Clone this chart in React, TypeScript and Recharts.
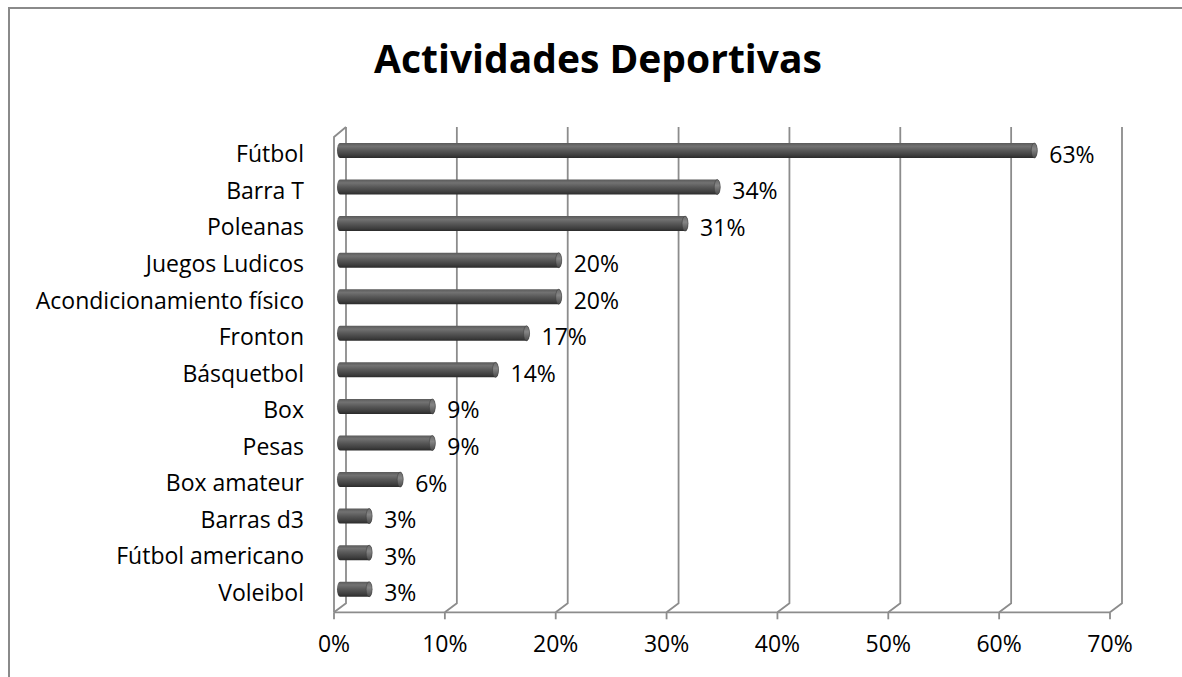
import React from "react";
import { Bar, BarChart, CartesianGrid, LabelList, XAxis, YAxis } from "recharts";

const categories = [
	"Fútbol",
	"Barra T",
	"Poleanas",
	"Juegos Ludicos",
	"Acondicionamiento físico",
	"Fronton",
	"Básquetbol",
	"Box",
	"Pesas",
	"Box amateur",
	"Barras d3",
	"Fútbol americano",
	"Voleibol",
];
const shares = [0.629, 0.343, 0.314, 0.2, 0.2, 0.171, 0.143, 0.086, 0.086, 0.057, 0.029, 0.029, 0.029];
const xTicks = [0, 0.1, 0.2, 0.3, 0.4, 0.5, 0.6, 0.7];
const title = "Actividades Deportivas";

const data = categories.map((name, i) => ({ name, value: shares[i] }));

const FONT = '"Open Sans", "Noto Sans", sans-serif';
const GRID = "#8c8c8c";
const DEPTH = 6; // half of the 3D depth offset
const FS = 23;

const pct = (v: number) => `${Math.round(v * 100)}%`;

// cylinder-ish bar
const Cylinder = (props: any) => {
	const { x, y, width, height } = props;
	const r = height / 2;
	const left = x - 3;
	const w = width + 3;
	return (
		<g>
			<rect x={left} y={y} width={w} height={height} rx={3} ry={r} fill="url(#cyl)" />
			<ellipse cx={left + w - 3} cy={y + r} rx={3} ry={r} fill="url(#cap)" stroke="#3a3a3a" strokeWidth={0.5} />
		</g>
	);
};

// grid line with the back wall / floor slant
const gridLine = (props: any) => {
	const { x1, y1, y2, index } = props;
	const top = y1 - 5;
	const back = y2 - 4;
	const front = y2 + 5;
	return (
		<g key={props.key}>
			<path
				d={`M${x1 + DEPTH},${top} L${x1 + DEPTH},${back} L${x1 - DEPTH},${front}`}
				fill="none"
				stroke={GRID}
				strokeWidth={1.8}
			/>
			{index === 0 && (
				<path
					d={`M${x1 + DEPTH},${top} L${x1 - DEPTH},${top + 10} L${x1 - DEPTH},${front}`}
					fill="none"
					stroke={GRID}
					strokeWidth={1.8}
				/>
			)}
		</g>
	);
};

const XTick = (props: any) => {
	const { x, y, payload } = props;
	return (
		<text x={x - DEPTH} y={y + 36} textAnchor="middle" fontSize={FS} fontFamily={FONT} fill="#000">
			{pct(payload.value)}
		</text>
	);
};

const YTick = (props: any) => {
	const { x, y, payload } = props;
	return (
		<text x={x} y={y + 12} textAnchor="end" fontSize={FS} fontFamily={FONT} fill="#000">
			{payload.value}
		</text>
	);
};

const ValueLabel = (props: any) => {
	const { x, y, width, height, value } = props;
	return (
		<text x={x + width + 12} y={y + height / 2 + 12} fontSize={FS} fontFamily={FONT} fill="#000">
			{pct(value)}
		</text>
	);
};

export default function App() {
	return (
		<div style={{ position: "absolute", left: 0, top: 0, width: 1182, height: 677, overflow: "hidden", background: "#fff" }}>
			<div
				style={{
					position: "absolute",
					left: 8,
					top: 7,
					width: 1300,
					height: 800,
					borderLeft: "2px solid #8a8a8a",
					borderTop: "2px solid #8a8a8a",
				}}
			/>
			<div
				style={{
					position: "absolute",
					left: 0,
					top: 38,
					width: 1196,
					textAlign: "center",
					fontFamily: FONT,
					fontWeight: 700,
					fontSize: 39,
					lineHeight: "40px",
					color: "#000",
				}}
			>
				{title}
			</div>
			<div style={{ position: "absolute", left: 0, top: 0 }}>
				<BarChart
					width={1182}
					height={677}
					data={data}
					layout="vertical"
					margin={{ top: 132, right: 66, bottom: 9.7, left: 0 }}
					barSize={15}
				>
					<defs>
						<linearGradient id="cyl" x1="0" y1="0" x2="0" y2="1">
							<stop offset="0%" stopColor="#5a5a5a" />
							<stop offset="22%" stopColor="#727272" />
							<stop offset="50%" stopColor="#585858" />
							<stop offset="82%" stopColor="#3e3e3e" />
							<stop offset="100%" stopColor="#2a2a2a" />
						</linearGradient>
						<linearGradient id="cap" x1="0" y1="0" x2="0" y2="1">
							<stop offset="0%" stopColor="#6a6a6a" />
							<stop offset="40%" stopColor="#858585" />
							<stop offset="100%" stopColor="#4a4a4a" />
						</linearGradient>
					</defs>
					<CartesianGrid horizontal={false} vertical={gridLine} />
					<XAxis
						type="number"
						domain={[0, 0.7]}
						ticks={xTicks}
						height={60}
						tickSize={7}
						axisLine={{ stroke: GRID, strokeWidth: 1.8, transform: "translate(-6,5)" }}
						tickLine={{ stroke: GRID, strokeWidth: 1.8, transform: "translate(-6,5)" }}
						tick={<XTick />}
					/>
					<YAxis
						type="category"
						dataKey="name"
						width={340}
						tickSize={0}
						tickMargin={36}
						axisLine={false}
						tickLine={false}
						interval={0}
						tick={<YTick />}
					/>
					<Bar dataKey="value" shape={<Cylinder />} isAnimationActive={false}>
						<LabelList dataKey="value" content={<ValueLabel />} />
					</Bar>
				</BarChart>
			</div>
		</div>
	);
}
